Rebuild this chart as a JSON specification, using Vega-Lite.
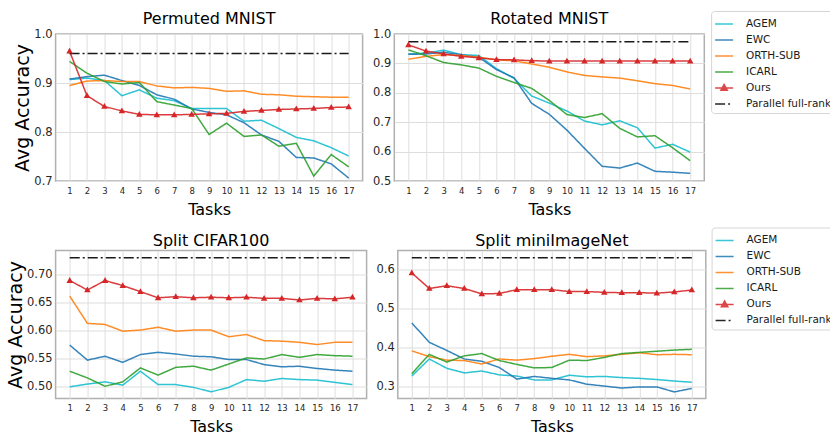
{
"$schema":"https://vega.github.io/schema/vega-lite/v6.json",
"padding":{"left":5.6,"top":10,"right":0,"bottom":0},
"background":"white",
"config":{
 "font":"DejaVu Sans",
 "view":{"stroke":"#b0b0b0","strokeWidth":1.5},
 "axis":{"grid":true,"gridColor":"#dedede","gridWidth":1,"domain":false,"ticks":false,"labelFont":"DejaVu Sans","titleFont":"DejaVu Sans","titleFontWeight":"normal","labelColor":"#262626","titleColor":"#000000"},
 "axisX":{"labelFontSize":8.5,"labelPadding":5,"titleFontSize":16,"titlePadding":7,"labelFlush":false},
 "axisY":{"labelFontSize":11.5,"labelPadding":3.5,"titleFontSize":19,"titlePadding":1},
 "title":{"fontSize":16,"fontWeight":"normal","font":"DejaVu Sans","offset":1,"color":"#000000"},
 "legend":{"symbolType":"stroke","symbolSize":324,"labelFontSize":10.5,"labelFont":"DejaVu Sans","labelColor":"#1a1a1a","labelOffset":12,"rowPadding":-4,"padding":3,"strokeColor":"#d5d5d5","fillColor":"white","cornerRadius":3,"symbolStrokeWidth":1.8,"symbolOpacity":0.85}
},
"data":{"values":[
{"set":"P","method":"AGEM","task":1,"acc":0.907},{"set":"P","method":"AGEM","task":2,"acc":0.910},{"set":"P","method":"AGEM","task":3,"acc":0.905},{"set":"P","method":"AGEM","task":4,"acc":0.874},{"set":"P","method":"AGEM","task":5,"acc":0.886},{"set":"P","method":"AGEM","task":6,"acc":0.869},{"set":"P","method":"AGEM","task":7,"acc":0.864},{"set":"P","method":"AGEM","task":8,"acc":0.848},{"set":"P","method":"AGEM","task":9,"acc":0.848},{"set":"P","method":"AGEM","task":10,"acc":0.848},{"set":"P","method":"AGEM","task":11,"acc":0.822},{"set":"P","method":"AGEM","task":12,"acc":0.824},{"set":"P","method":"AGEM","task":13,"acc":0.807},{"set":"P","method":"AGEM","task":14,"acc":0.789},{"set":"P","method":"AGEM","task":15,"acc":0.782},{"set":"P","method":"AGEM","task":16,"acc":0.768},{"set":"P","method":"AGEM","task":17,"acc":0.751},
{"set":"P","method":"EWC","task":1,"acc":0.908},{"set":"P","method":"EWC","task":2,"acc":0.913},{"set":"P","method":"EWC","task":3,"acc":0.916},{"set":"P","method":"EWC","task":4,"acc":0.905},{"set":"P","method":"EWC","task":5,"acc":0.895},{"set":"P","method":"EWC","task":6,"acc":0.876},{"set":"P","method":"EWC","task":7,"acc":0.867},{"set":"P","method":"EWC","task":8,"acc":0.847},{"set":"P","method":"EWC","task":9,"acc":0.840},{"set":"P","method":"EWC","task":10,"acc":0.835},{"set":"P","method":"EWC","task":11,"acc":0.819},{"set":"P","method":"EWC","task":12,"acc":0.794},{"set":"P","method":"EWC","task":13,"acc":0.781},{"set":"P","method":"EWC","task":14,"acc":0.748},{"set":"P","method":"EWC","task":15,"acc":0.747},{"set":"P","method":"EWC","task":16,"acc":0.735},{"set":"P","method":"EWC","task":17,"acc":0.706},
{"set":"P","method":"ORTH-SUB","task":1,"acc":0.895},{"set":"P","method":"ORTH-SUB","task":2,"acc":0.904},{"set":"P","method":"ORTH-SUB","task":3,"acc":0.905},{"set":"P","method":"ORTH-SUB","task":4,"acc":0.903},{"set":"P","method":"ORTH-SUB","task":5,"acc":0.903},{"set":"P","method":"ORTH-SUB","task":6,"acc":0.894},{"set":"P","method":"ORTH-SUB","task":7,"acc":0.890},{"set":"P","method":"ORTH-SUB","task":8,"acc":0.891},{"set":"P","method":"ORTH-SUB","task":9,"acc":0.889},{"set":"P","method":"ORTH-SUB","task":10,"acc":0.883},{"set":"P","method":"ORTH-SUB","task":11,"acc":0.884},{"set":"P","method":"ORTH-SUB","task":12,"acc":0.877},{"set":"P","method":"ORTH-SUB","task":13,"acc":0.876},{"set":"P","method":"ORTH-SUB","task":14,"acc":0.873},{"set":"P","method":"ORTH-SUB","task":15,"acc":0.872},{"set":"P","method":"ORTH-SUB","task":16,"acc":0.871},{"set":"P","method":"ORTH-SUB","task":17,"acc":0.871},
{"set":"P","method":"ICARL","task":1,"acc":0.944},{"set":"P","method":"ICARL","task":2,"acc":0.920},{"set":"P","method":"ICARL","task":3,"acc":0.903},{"set":"P","method":"ICARL","task":4,"acc":0.898},{"set":"P","method":"ICARL","task":5,"acc":0.901},{"set":"P","method":"ICARL","task":6,"acc":0.862},{"set":"P","method":"ICARL","task":7,"acc":0.855},{"set":"P","method":"ICARL","task":8,"acc":0.848},{"set":"P","method":"ICARL","task":9,"acc":0.795},{"set":"P","method":"ICARL","task":10,"acc":0.818},{"set":"P","method":"ICARL","task":11,"acc":0.791},{"set":"P","method":"ICARL","task":12,"acc":0.794},{"set":"P","method":"ICARL","task":13,"acc":0.771},{"set":"P","method":"ICARL","task":14,"acc":0.777},{"set":"P","method":"ICARL","task":15,"acc":0.710},{"set":"P","method":"ICARL","task":16,"acc":0.754},{"set":"P","method":"ICARL","task":17,"acc":0.729},
{"set":"P","method":"Ours","task":1,"acc":0.965},{"set":"P","method":"Ours","task":2,"acc":0.874},{"set":"P","method":"Ours","task":3,"acc":0.852},{"set":"P","method":"Ours","task":4,"acc":0.843},{"set":"P","method":"Ours","task":5,"acc":0.836},{"set":"P","method":"Ours","task":6,"acc":0.835},{"set":"P","method":"Ours","task":7,"acc":0.835},{"set":"P","method":"Ours","task":8,"acc":0.836},{"set":"P","method":"Ours","task":9,"acc":0.837},{"set":"P","method":"Ours","task":10,"acc":0.838},{"set":"P","method":"Ours","task":11,"acc":0.842},{"set":"P","method":"Ours","task":12,"acc":0.844},{"set":"P","method":"Ours","task":13,"acc":0.846},{"set":"P","method":"Ours","task":14,"acc":0.847},{"set":"P","method":"Ours","task":15,"acc":0.848},{"set":"P","method":"Ours","task":16,"acc":0.850},{"set":"P","method":"Ours","task":17,"acc":0.851},
{"set":"P","method":"Parallel full-rank","task":1,"acc":0.960},{"set":"P","method":"Parallel full-rank","task":17,"acc":0.960},
{"set":"R","method":"AGEM","task":1,"acc":0.932},{"set":"R","method":"AGEM","task":2,"acc":0.935},{"set":"R","method":"AGEM","task":3,"acc":0.945},{"set":"R","method":"AGEM","task":4,"acc":0.930},{"set":"R","method":"AGEM","task":5,"acc":0.927},{"set":"R","method":"AGEM","task":6,"acc":0.882},{"set":"R","method":"AGEM","task":7,"acc":0.849},{"set":"R","method":"AGEM","task":8,"acc":0.789},{"set":"R","method":"AGEM","task":9,"acc":0.765},{"set":"R","method":"AGEM","task":10,"acc":0.738},{"set":"R","method":"AGEM","task":11,"acc":0.704},{"set":"R","method":"AGEM","task":12,"acc":0.691},{"set":"R","method":"AGEM","task":13,"acc":0.705},{"set":"R","method":"AGEM","task":14,"acc":0.681},{"set":"R","method":"AGEM","task":15,"acc":0.612},{"set":"R","method":"AGEM","task":16,"acc":0.625},{"set":"R","method":"AGEM","task":17,"acc":0.598},
{"set":"R","method":"EWC","task":1,"acc":0.931},{"set":"R","method":"EWC","task":2,"acc":0.932},{"set":"R","method":"EWC","task":3,"acc":0.938},{"set":"R","method":"EWC","task":4,"acc":0.929},{"set":"R","method":"EWC","task":5,"acc":0.921},{"set":"R","method":"EWC","task":6,"acc":0.879},{"set":"R","method":"EWC","task":7,"acc":0.851},{"set":"R","method":"EWC","task":8,"acc":0.764},{"set":"R","method":"EWC","task":9,"acc":0.727},{"set":"R","method":"EWC","task":10,"acc":0.673},{"set":"R","method":"EWC","task":11,"acc":0.611},{"set":"R","method":"EWC","task":12,"acc":0.550},{"set":"R","method":"EWC","task":13,"acc":0.544},{"set":"R","method":"EWC","task":14,"acc":0.561},{"set":"R","method":"EWC","task":15,"acc":0.533},{"set":"R","method":"EWC","task":16,"acc":0.530},{"set":"R","method":"EWC","task":17,"acc":0.526},
{"set":"R","method":"ORTH-SUB","task":1,"acc":0.914},{"set":"R","method":"ORTH-SUB","task":2,"acc":0.924},{"set":"R","method":"ORTH-SUB","task":3,"acc":0.930},{"set":"R","method":"ORTH-SUB","task":4,"acc":0.927},{"set":"R","method":"ORTH-SUB","task":5,"acc":0.921},{"set":"R","method":"ORTH-SUB","task":6,"acc":0.912},{"set":"R","method":"ORTH-SUB","task":7,"acc":0.909},{"set":"R","method":"ORTH-SUB","task":8,"acc":0.898},{"set":"R","method":"ORTH-SUB","task":9,"acc":0.887},{"set":"R","method":"ORTH-SUB","task":10,"acc":0.871},{"set":"R","method":"ORTH-SUB","task":11,"acc":0.859},{"set":"R","method":"ORTH-SUB","task":12,"acc":0.854},{"set":"R","method":"ORTH-SUB","task":13,"acc":0.850},{"set":"R","method":"ORTH-SUB","task":14,"acc":0.841},{"set":"R","method":"ORTH-SUB","task":15,"acc":0.831},{"set":"R","method":"ORTH-SUB","task":16,"acc":0.825},{"set":"R","method":"ORTH-SUB","task":17,"acc":0.813},
{"set":"R","method":"ICARL","task":1,"acc":0.946},{"set":"R","method":"ICARL","task":2,"acc":0.926},{"set":"R","method":"ICARL","task":3,"acc":0.903},{"set":"R","method":"ICARL","task":4,"acc":0.895},{"set":"R","method":"ICARL","task":5,"acc":0.884},{"set":"R","method":"ICARL","task":6,"acc":0.856},{"set":"R","method":"ICARL","task":7,"acc":0.835},{"set":"R","method":"ICARL","task":8,"acc":0.815},{"set":"R","method":"ICARL","task":9,"acc":0.774},{"set":"R","method":"ICARL","task":10,"acc":0.726},{"set":"R","method":"ICARL","task":11,"acc":0.716},{"set":"R","method":"ICARL","task":12,"acc":0.729},{"set":"R","method":"ICARL","task":13,"acc":0.679},{"set":"R","method":"ICARL","task":14,"acc":0.650},{"set":"R","method":"ICARL","task":15,"acc":0.654},{"set":"R","method":"ICARL","task":16,"acc":0.613},{"set":"R","method":"ICARL","task":17,"acc":0.569},
{"set":"R","method":"Ours","task":1,"acc":0.963},{"set":"R","method":"Ours","task":2,"acc":0.942},{"set":"R","method":"Ours","task":3,"acc":0.932},{"set":"R","method":"Ours","task":4,"acc":0.924},{"set":"R","method":"Ours","task":5,"acc":0.919},{"set":"R","method":"Ours","task":6,"acc":0.913},{"set":"R","method":"Ours","task":7,"acc":0.912},{"set":"R","method":"Ours","task":8,"acc":0.909},{"set":"R","method":"Ours","task":9,"acc":0.908},{"set":"R","method":"Ours","task":10,"acc":0.908},{"set":"R","method":"Ours","task":11,"acc":0.908},{"set":"R","method":"Ours","task":12,"acc":0.908},{"set":"R","method":"Ours","task":13,"acc":0.908},{"set":"R","method":"Ours","task":14,"acc":0.908},{"set":"R","method":"Ours","task":15,"acc":0.908},{"set":"R","method":"Ours","task":16,"acc":0.908},{"set":"R","method":"Ours","task":17,"acc":0.908},
{"set":"R","method":"Parallel full-rank","task":1,"acc":0.974},{"set":"R","method":"Parallel full-rank","task":17,"acc":0.974},
{"set":"C","method":"AGEM","task":1,"acc":0.499},{"set":"C","method":"AGEM","task":2,"acc":0.504},{"set":"C","method":"AGEM","task":3,"acc":0.508},{"set":"C","method":"AGEM","task":4,"acc":0.502},{"set":"C","method":"AGEM","task":5,"acc":0.527},{"set":"C","method":"AGEM","task":6,"acc":0.503},{"set":"C","method":"AGEM","task":7,"acc":0.503},{"set":"C","method":"AGEM","task":8,"acc":0.498},{"set":"C","method":"AGEM","task":9,"acc":0.490},{"set":"C","method":"AGEM","task":10,"acc":0.498},{"set":"C","method":"AGEM","task":11,"acc":0.512},{"set":"C","method":"AGEM","task":12,"acc":0.509},{"set":"C","method":"AGEM","task":13,"acc":0.514},{"set":"C","method":"AGEM","task":14,"acc":0.512},{"set":"C","method":"AGEM","task":15,"acc":0.511},{"set":"C","method":"AGEM","task":16,"acc":0.507},{"set":"C","method":"AGEM","task":17,"acc":0.503},
{"set":"C","method":"EWC","task":1,"acc":0.574},{"set":"C","method":"EWC","task":2,"acc":0.547},{"set":"C","method":"EWC","task":3,"acc":0.554},{"set":"C","method":"EWC","task":4,"acc":0.543},{"set":"C","method":"EWC","task":5,"acc":0.557},{"set":"C","method":"EWC","task":6,"acc":0.561},{"set":"C","method":"EWC","task":7,"acc":0.558},{"set":"C","method":"EWC","task":8,"acc":0.554},{"set":"C","method":"EWC","task":9,"acc":0.553},{"set":"C","method":"EWC","task":10,"acc":0.548},{"set":"C","method":"EWC","task":11,"acc":0.548},{"set":"C","method":"EWC","task":12,"acc":0.539},{"set":"C","method":"EWC","task":13,"acc":0.535},{"set":"C","method":"EWC","task":14,"acc":0.536},{"set":"C","method":"EWC","task":15,"acc":0.532},{"set":"C","method":"EWC","task":16,"acc":0.529},{"set":"C","method":"EWC","task":17,"acc":0.527},
{"set":"C","method":"ORTH-SUB","task":1,"acc":0.662},{"set":"C","method":"ORTH-SUB","task":2,"acc":0.613},{"set":"C","method":"ORTH-SUB","task":3,"acc":0.611},{"set":"C","method":"ORTH-SUB","task":4,"acc":0.599},{"set":"C","method":"ORTH-SUB","task":5,"acc":0.601},{"set":"C","method":"ORTH-SUB","task":6,"acc":0.606},{"set":"C","method":"ORTH-SUB","task":7,"acc":0.599},{"set":"C","method":"ORTH-SUB","task":8,"acc":0.601},{"set":"C","method":"ORTH-SUB","task":9,"acc":0.601},{"set":"C","method":"ORTH-SUB","task":10,"acc":0.589},{"set":"C","method":"ORTH-SUB","task":11,"acc":0.593},{"set":"C","method":"ORTH-SUB","task":12,"acc":0.582},{"set":"C","method":"ORTH-SUB","task":13,"acc":0.581},{"set":"C","method":"ORTH-SUB","task":14,"acc":0.579},{"set":"C","method":"ORTH-SUB","task":15,"acc":0.575},{"set":"C","method":"ORTH-SUB","task":16,"acc":0.579},{"set":"C","method":"ORTH-SUB","task":17,"acc":0.579},
{"set":"C","method":"ICARL","task":1,"acc":0.527},{"set":"C","method":"ICARL","task":2,"acc":0.515},{"set":"C","method":"ICARL","task":3,"acc":0.500},{"set":"C","method":"ICARL","task":4,"acc":0.508},{"set":"C","method":"ICARL","task":5,"acc":0.533},{"set":"C","method":"ICARL","task":6,"acc":0.520},{"set":"C","method":"ICARL","task":7,"acc":0.534},{"set":"C","method":"ICARL","task":8,"acc":0.536},{"set":"C","method":"ICARL","task":9,"acc":0.529},{"set":"C","method":"ICARL","task":10,"acc":0.540},{"set":"C","method":"ICARL","task":11,"acc":0.551},{"set":"C","method":"ICARL","task":12,"acc":0.549},{"set":"C","method":"ICARL","task":13,"acc":0.557},{"set":"C","method":"ICARL","task":14,"acc":0.552},{"set":"C","method":"ICARL","task":15,"acc":0.557},{"set":"C","method":"ICARL","task":16,"acc":0.555},{"set":"C","method":"ICARL","task":17,"acc":0.554},
{"set":"C","method":"Ours","task":1,"acc":0.690},{"set":"C","method":"Ours","task":2,"acc":0.673},{"set":"C","method":"Ours","task":3,"acc":0.690},{"set":"C","method":"Ours","task":4,"acc":0.681},{"set":"C","method":"Ours","task":5,"acc":0.670},{"set":"C","method":"Ours","task":6,"acc":0.659},{"set":"C","method":"Ours","task":7,"acc":0.661},{"set":"C","method":"Ours","task":8,"acc":0.659},{"set":"C","method":"Ours","task":9,"acc":0.660},{"set":"C","method":"Ours","task":10,"acc":0.659},{"set":"C","method":"Ours","task":11,"acc":0.660},{"set":"C","method":"Ours","task":12,"acc":0.658},{"set":"C","method":"Ours","task":13,"acc":0.658},{"set":"C","method":"Ours","task":14,"acc":0.655},{"set":"C","method":"Ours","task":15,"acc":0.658},{"set":"C","method":"Ours","task":16,"acc":0.657},{"set":"C","method":"Ours","task":17,"acc":0.660},
{"set":"C","method":"Parallel full-rank","task":1,"acc":0.731},{"set":"C","method":"Parallel full-rank","task":17,"acc":0.731},
{"set":"M","method":"AGEM","task":1,"acc":0.326},{"set":"M","method":"AGEM","task":2,"acc":0.370},{"set":"M","method":"AGEM","task":3,"acc":0.346},{"set":"M","method":"AGEM","task":4,"acc":0.334},{"set":"M","method":"AGEM","task":5,"acc":0.339},{"set":"M","method":"AGEM","task":6,"acc":0.329},{"set":"M","method":"AGEM","task":7,"acc":0.326},{"set":"M","method":"AGEM","task":8,"acc":0.316},{"set":"M","method":"AGEM","task":9,"acc":0.316},{"set":"M","method":"AGEM","task":10,"acc":0.328},{"set":"M","method":"AGEM","task":11,"acc":0.324},{"set":"M","method":"AGEM","task":12,"acc":0.325},{"set":"M","method":"AGEM","task":13,"acc":0.322},{"set":"M","method":"AGEM","task":14,"acc":0.320},{"set":"M","method":"AGEM","task":15,"acc":0.317},{"set":"M","method":"AGEM","task":16,"acc":0.313},{"set":"M","method":"AGEM","task":17,"acc":0.310},
{"set":"M","method":"EWC","task":1,"acc":0.463},{"set":"M","method":"EWC","task":2,"acc":0.413},{"set":"M","method":"EWC","task":3,"acc":0.392},{"set":"M","method":"EWC","task":4,"acc":0.370},{"set":"M","method":"EWC","task":5,"acc":0.364},{"set":"M","method":"EWC","task":6,"acc":0.348},{"set":"M","method":"EWC","task":7,"acc":0.318},{"set":"M","method":"EWC","task":8,"acc":0.325},{"set":"M","method":"EWC","task":9,"acc":0.320},{"set":"M","method":"EWC","task":10,"acc":0.316},{"set":"M","method":"EWC","task":11,"acc":0.305},{"set":"M","method":"EWC","task":12,"acc":0.300},{"set":"M","method":"EWC","task":13,"acc":0.295},{"set":"M","method":"EWC","task":14,"acc":0.298},{"set":"M","method":"EWC","task":15,"acc":0.298},{"set":"M","method":"EWC","task":16,"acc":0.285},{"set":"M","method":"EWC","task":17,"acc":0.294},
{"set":"M","method":"ORTH-SUB","task":1,"acc":0.391},{"set":"M","method":"ORTH-SUB","task":2,"acc":0.376},{"set":"M","method":"ORTH-SUB","task":3,"acc":0.367},{"set":"M","method":"ORTH-SUB","task":4,"acc":0.366},{"set":"M","method":"ORTH-SUB","task":5,"acc":0.357},{"set":"M","method":"ORTH-SUB","task":6,"acc":0.370},{"set":"M","method":"ORTH-SUB","task":7,"acc":0.367},{"set":"M","method":"ORTH-SUB","task":8,"acc":0.371},{"set":"M","method":"ORTH-SUB","task":9,"acc":0.377},{"set":"M","method":"ORTH-SUB","task":10,"acc":0.382},{"set":"M","method":"ORTH-SUB","task":11,"acc":0.376},{"set":"M","method":"ORTH-SUB","task":12,"acc":0.378},{"set":"M","method":"ORTH-SUB","task":13,"acc":0.382},{"set":"M","method":"ORTH-SUB","task":14,"acc":0.386},{"set":"M","method":"ORTH-SUB","task":15,"acc":0.381},{"set":"M","method":"ORTH-SUB","task":16,"acc":0.382},{"set":"M","method":"ORTH-SUB","task":17,"acc":0.381},
{"set":"M","method":"ICARL","task":1,"acc":0.332},{"set":"M","method":"ICARL","task":2,"acc":0.382},{"set":"M","method":"ICARL","task":3,"acc":0.362},{"set":"M","method":"ICARL","task":4,"acc":0.378},{"set":"M","method":"ICARL","task":5,"acc":0.384},{"set":"M","method":"ICARL","task":6,"acc":0.366},{"set":"M","method":"ICARL","task":7,"acc":0.356},{"set":"M","method":"ICARL","task":8,"acc":0.347},{"set":"M","method":"ICARL","task":9,"acc":0.348},{"set":"M","method":"ICARL","task":10,"acc":0.367},{"set":"M","method":"ICARL","task":11,"acc":0.366},{"set":"M","method":"ICARL","task":12,"acc":0.374},{"set":"M","method":"ICARL","task":13,"acc":0.384},{"set":"M","method":"ICARL","task":14,"acc":0.387},{"set":"M","method":"ICARL","task":15,"acc":0.390},{"set":"M","method":"ICARL","task":16,"acc":0.393},{"set":"M","method":"ICARL","task":17,"acc":0.395},
{"set":"M","method":"Ours","task":1,"acc":0.592},{"set":"M","method":"Ours","task":2,"acc":0.552},{"set":"M","method":"Ours","task":3,"acc":0.559},{"set":"M","method":"Ours","task":4,"acc":0.552},{"set":"M","method":"Ours","task":5,"acc":0.538},{"set":"M","method":"Ours","task":6,"acc":0.539},{"set":"M","method":"Ours","task":7,"acc":0.549},{"set":"M","method":"Ours","task":8,"acc":0.549},{"set":"M","method":"Ours","task":9,"acc":0.549},{"set":"M","method":"Ours","task":10,"acc":0.544},{"set":"M","method":"Ours","task":11,"acc":0.544},{"set":"M","method":"Ours","task":12,"acc":0.542},{"set":"M","method":"Ours","task":13,"acc":0.541},{"set":"M","method":"Ours","task":14,"acc":0.541},{"set":"M","method":"Ours","task":15,"acc":0.540},{"set":"M","method":"Ours","task":16,"acc":0.543},{"set":"M","method":"Ours","task":17,"acc":0.548},
{"set":"M","method":"Parallel full-rank","task":1,"acc":0.631},{"set":"M","method":"Parallel full-rank","task":17,"acc":0.631}
]},
"columns":1,
"align":"none",
"spacing":7.5,
"resolve":{"scale":{"color":"independent","strokeDash":"independent","shape":"independent","strokeWidth":"independent","strokeOpacity":"independent"},"legend":{"color":"independent","strokeDash":"independent","shape":"independent"}},
"concat":[
{"spacing":7.7,
 "hconcat":[
 {"width":307,"height":147,"title":"Permuted MNIST",
  "transform":[{"filter":"datum.set === 'P'"}],
  "encoding":{
   "x":{"field":"task","type":"quantitative","scale":{"domain":[0.2,17.8],"nice":false,"zero":false},"axis":{"values":[1,2,3,4,5,6,7,8,9,10,11,12,13,14,15,16,17],"format":"d","title":"Tasks"}},
   "y":{"field":"acc","type":"quantitative","scale":{"domain":[0.7,1.0],"nice":false,"zero":false},"axis":{"values":[0.7,0.8,0.9,1.0],"format":".1f","title":"Avg Accuracy"}}},
  "layer":[
   {"mark":{"type":"line"},"encoding":{
     "color":{"field":"method","type":"nominal","scale":{"domain":["AGEM","EWC","ORTH-SUB","ICARL","Ours","Parallel full-rank"],"range":["#17becf","#1f77b4","#ff7f0e","#2ca02c","#d62728","#000000"]},
      "legend":{"orient":"none","legendX":655.5,"legendY":-23,"title":null}},
     "strokeDash":{"field":"method","type":"nominal","scale":{"domain":["AGEM","EWC","ORTH-SUB","ICARL","Ours","Parallel full-rank"],"range":[[1,0],[1,0],[1,0],[1,0],[1,0],[10,3,2,3]]},
      "legend":{"orient":"none","legendX":655.5,"legendY":-23,"title":null}},
     "strokeWidth":{"field":"method","type":"nominal","scale":{"domain":["AGEM","EWC","ORTH-SUB","ICARL","Ours","Parallel full-rank"],"range":[1.5,1.5,1.5,1.5,2.2,2]},"legend":null},
     "strokeOpacity":{"field":"method","type":"nominal","scale":{"domain":["AGEM","EWC","ORTH-SUB","ICARL","Ours","Parallel full-rank"],"range":[0.9,0.9,0.9,0.9,0.7,1]},"legend":null}}},
   {"transform":[{"filter":"datum.method === 'Ours'"}],"mark":{"type":"point","filled":true,"size":324,"color":"#d62728","opacity":1},
    "encoding":{"shape":{"field":"method","type":"nominal","scale":{"domain":["AGEM","EWC","ORTH-SUB","ICARL","Ours","Parallel full-rank"],"range":["M-1,0H1","M-1,0H1","M-1,0H1","M-1,0H1","M-1,0H1M0,-0.38L0.36,0.26L-0.36,0.26Z","M-1,0H1"]},
      "legend":{"orient":"none","legendX":655.5,"legendY":-23,"title":null}}}}
  ]},
 {"width":310,"height":147,"title":"Rotated MNIST",
  "transform":[{"filter":"datum.set === 'R'"}],
  "encoding":{
   "x":{"field":"task","type":"quantitative","scale":{"domain":[0.2,17.8],"nice":false,"zero":false},"axis":{"values":[1,2,3,4,5,6,7,8,9,10,11,12,13,14,15,16,17],"format":"d","title":"Tasks"}},
   "y":{"field":"acc","type":"quantitative","scale":{"domain":[0.5,1.0],"nice":false,"zero":false},"axis":{"values":[0.5,0.6,0.7,0.8,0.9,1.0],"format":".1f","title":null}}},
  "layer":[
   {"mark":{"type":"line"},"encoding":{
     "color":{"field":"method","type":"nominal","scale":{"domain":["AGEM","EWC","ORTH-SUB","ICARL","Ours","Parallel full-rank"],"range":["#17becf","#1f77b4","#ff7f0e","#2ca02c","#d62728","#000000"]},
      "legend":{"orient":"none","legendX":655.5,"legendY":-23,"title":null}},
     "strokeDash":{"field":"method","type":"nominal","scale":{"domain":["AGEM","EWC","ORTH-SUB","ICARL","Ours","Parallel full-rank"],"range":[[1,0],[1,0],[1,0],[1,0],[1,0],[10,3,2,3]]},
      "legend":{"orient":"none","legendX":655.5,"legendY":-23,"title":null}},
     "strokeWidth":{"field":"method","type":"nominal","scale":{"domain":["AGEM","EWC","ORTH-SUB","ICARL","Ours","Parallel full-rank"],"range":[1.5,1.5,1.5,1.5,2.2,2]},"legend":null},
     "strokeOpacity":{"field":"method","type":"nominal","scale":{"domain":["AGEM","EWC","ORTH-SUB","ICARL","Ours","Parallel full-rank"],"range":[0.9,0.9,0.9,0.9,0.7,1]},"legend":null}}},
   {"transform":[{"filter":"datum.method === 'Ours'"}],"mark":{"type":"point","filled":true,"size":324,"color":"#d62728","opacity":1},
    "encoding":{"shape":{"field":"method","type":"nominal","scale":{"domain":["AGEM","EWC","ORTH-SUB","ICARL","Ours","Parallel full-rank"],"range":["M-1,0H1","M-1,0H1","M-1,0H1","M-1,0H1","M-1,0H1M0,-0.38L0.36,0.26L-0.36,0.26Z","M-1,0H1"]},
      "legend":{"orient":"none","legendX":655.5,"legendY":-23,"title":null}}}}
  ]}
 ]},
{"spacing":7.2,
 "hconcat":[
 {"width":311,"height":148,"title":"Split CIFAR100",
  "transform":[{"filter":"datum.set === 'C'"}],
  "encoding":{
   "x":{"field":"task","type":"quantitative","scale":{"domain":[0.2,17.8],"nice":false,"zero":false},"axis":{"values":[1,2,3,4,5,6,7,8,9,10,11,12,13,14,15,16,17],"format":"d","title":"Tasks"}},
   "y":{"field":"acc","type":"quantitative","scale":{"domain":[0.478,0.744],"nice":false,"zero":false},"axis":{"values":[0.5,0.55,0.6,0.65,0.7],"format":".2f","title":"Avg Accuracy"}}},
  "layer":[
   {"mark":{"type":"line"},"encoding":{
     "color":{"field":"method","type":"nominal","scale":{"domain":["AGEM","EWC","ORTH-SUB","ICARL","Ours","Parallel full-rank"],"range":["#17becf","#1f77b4","#ff7f0e","#2ca02c","#d62728","#000000"]},
      "legend":{"orient":"none","legendX":656,"legendY":-23,"title":null}},
     "strokeDash":{"field":"method","type":"nominal","scale":{"domain":["AGEM","EWC","ORTH-SUB","ICARL","Ours","Parallel full-rank"],"range":[[1,0],[1,0],[1,0],[1,0],[1,0],[10,3,2,3]]},
      "legend":{"orient":"none","legendX":656,"legendY":-23,"title":null}},
     "strokeWidth":{"field":"method","type":"nominal","scale":{"domain":["AGEM","EWC","ORTH-SUB","ICARL","Ours","Parallel full-rank"],"range":[1.5,1.5,1.5,1.5,2.2,2]},"legend":null},
     "strokeOpacity":{"field":"method","type":"nominal","scale":{"domain":["AGEM","EWC","ORTH-SUB","ICARL","Ours","Parallel full-rank"],"range":[0.9,0.9,0.9,0.9,0.7,1]},"legend":null}}},
   {"transform":[{"filter":"datum.method === 'Ours'"}],"mark":{"type":"point","filled":true,"size":324,"color":"#d62728","opacity":1},
    "encoding":{"shape":{"field":"method","type":"nominal","scale":{"domain":["AGEM","EWC","ORTH-SUB","ICARL","Ours","Parallel full-rank"],"range":["M-1,0H1","M-1,0H1","M-1,0H1","M-1,0H1","M-1,0H1M0,-0.38L0.36,0.26L-0.36,0.26Z","M-1,0H1"]},
      "legend":{"orient":"none","legendX":656,"legendY":-23,"title":null}}}}
  ]},
 {"width":308,"height":148,"title":"Split miniImageNet",
  "transform":[{"filter":"datum.set === 'M'"}],
  "encoding":{
   "x":{"field":"task","type":"quantitative","scale":{"domain":[0.2,17.8],"nice":false,"zero":false},"axis":{"values":[1,2,3,4,5,6,7,8,9,10,11,12,13,14,15,16,17],"format":"d","title":"Tasks"}},
   "y":{"field":"acc","type":"quantitative","scale":{"domain":[0.268,0.65],"nice":false,"zero":false},"axis":{"values":[0.3,0.4,0.5,0.6],"format":".1f","title":null}}},
  "layer":[
   {"mark":{"type":"line"},"encoding":{
     "color":{"field":"method","type":"nominal","scale":{"domain":["AGEM","EWC","ORTH-SUB","ICARL","Ours","Parallel full-rank"],"range":["#17becf","#1f77b4","#ff7f0e","#2ca02c","#d62728","#000000"]},
      "legend":{"orient":"none","legendX":656,"legendY":-23,"title":null}},
     "strokeDash":{"field":"method","type":"nominal","scale":{"domain":["AGEM","EWC","ORTH-SUB","ICARL","Ours","Parallel full-rank"],"range":[[1,0],[1,0],[1,0],[1,0],[1,0],[10,3,2,3]]},
      "legend":{"orient":"none","legendX":656,"legendY":-23,"title":null}},
     "strokeWidth":{"field":"method","type":"nominal","scale":{"domain":["AGEM","EWC","ORTH-SUB","ICARL","Ours","Parallel full-rank"],"range":[1.5,1.5,1.5,1.5,2.2,2]},"legend":null},
     "strokeOpacity":{"field":"method","type":"nominal","scale":{"domain":["AGEM","EWC","ORTH-SUB","ICARL","Ours","Parallel full-rank"],"range":[0.9,0.9,0.9,0.9,0.7,1]},"legend":null}}},
   {"transform":[{"filter":"datum.method === 'Ours'"}],"mark":{"type":"point","filled":true,"size":324,"color":"#d62728","opacity":1},
    "encoding":{"shape":{"field":"method","type":"nominal","scale":{"domain":["AGEM","EWC","ORTH-SUB","ICARL","Ours","Parallel full-rank"],"range":["M-1,0H1","M-1,0H1","M-1,0H1","M-1,0H1","M-1,0H1M0,-0.38L0.36,0.26L-0.36,0.26Z","M-1,0H1"]},
      "legend":{"orient":"none","legendX":656,"legendY":-23,"title":null}}}}
  ]}
 ]}
]
}
